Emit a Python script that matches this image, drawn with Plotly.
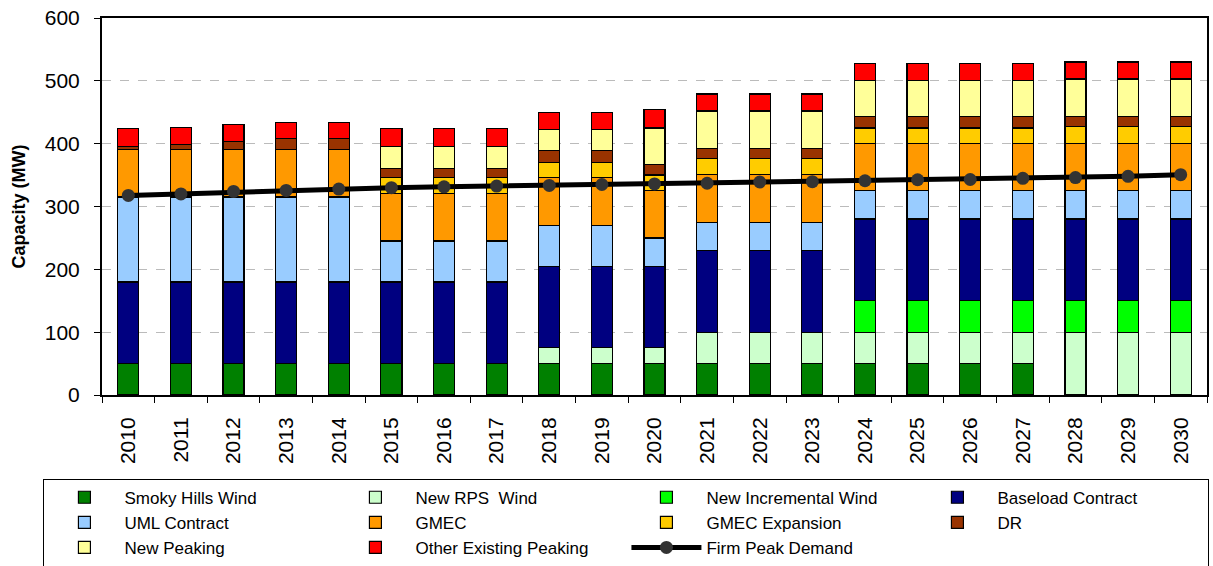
import plotly.graph_objects as go

years = [str(y) for y in range(2010, 2031)]

smoky_hills = [50]*18 + [0]*3
new_rps = [0]*8 + [25]*3 + [50]*7 + [100]*3
new_incr = [0]*14 + [50]*7
baseload = [130]*21
uml = [135]*5 + [65]*5 + [45]*11
gmec = [76]*8 + [76, 76, 75] + [76]*3 + [75]*7
gmec_exp = [0]*5 + [25]*3 + [24, 24, 25] + [25]*3 + [25]*4 + [27]*3
dr = [4, 8, 12, 17, 17] + [15]*3 + [19, 19, 17] + [16]*3 + [18]*4 + [16]*3
new_peaking = [0]*5 + [35]*3 + [33, 33, 58] + [60]*3 + [57]*4 + [60]*3
other_peaking = [29, 27, 27, 26, 26] + [28]*3 + [27, 27, 30] + [27]*3 + [28]*4 + [27]*3
firm_peak = [317.6, 320, 324, 325.6, 327.7, 330, 331.3, 332.5, 333.6, 335, 336,
             337, 339, 339.5, 341, 342.6, 343, 344.8, 346, 348, 350.7]

series = [
    ("Smoky Hills Wind", smoky_hills, "#008000"),
    ("New RPS  Wind", new_rps, "#CCFFCC"),
    ("New Incremental Wind", new_incr, "#00FF00"),
    ("Baseload Contract", baseload, "#000080"),
    ("UML Contract", uml, "#99CCFF"),
    ("GMEC", gmec, "#FF9900"),
    ("GMEC Expansion", gmec_exp, "#FFCC00"),
    ("DR", dr, "#993300"),
    ("New Peaking", new_peaking, "#FFFF99"),
    ("Other Existing Peaking", other_peaking, "#FF0000"),
]

fig = go.Figure()
for name, vals, col in series:
    fig.add_trace(go.Bar(
        x=years, y=vals, name=name, width=0.4,
        marker=dict(color=col, line=dict(color="black", width=1.2)),
    ))

fig.add_trace(go.Scatter(
    x=years, y=firm_peak, name="Firm Peak Demand", mode="lines+markers",
    line=dict(color="black", width=5),
    marker=dict(color="#333333", size=13),
))

fig.update_layout(
    barmode="stack",
    width=1213, height=566,
    margin=dict(l=102, r=6, t=18, b=171, autoexpand=False),
    paper_bgcolor="white", plot_bgcolor="white",
    font=dict(family="Liberation Sans, Arial, sans-serif", color="black"),
    showlegend=True,
    legend=dict(
        orientation="h", x=-0.053, xanchor="left", y=-0.222, yanchor="top",
        bordercolor="black", borderwidth=1,
        font=dict(size=17),
        itemwidth=70,
        entrywidth=206, entrywidthmode="pixels",
        traceorder="normal",
    ),
)

fig.update_yaxes(
    range=[0, 600], dtick=100,
    tickfont=dict(size=21),
    ticks="outside", ticklen=6, tickcolor="black", ticklabelstandoff=10,
    showline=True, linecolor="black", linewidth=2, mirror=True,
    showgrid=True, gridcolor="#BBBBBB", griddash="dash", gridwidth=1,
    title=dict(text="<b>Capacity (MW)</b>", font=dict(size=18), standoff=14),
    zeroline=False, automargin=False,
)
fig.update_xaxes(
    range=[-0.5, 20.5],
    tickangle=-90, tickfont=dict(size=21),
    ticks="outside", ticklen=6, tickcolor="black", tickson="boundaries",
    ticklabelstandoff=12,
    showline=True, linecolor="black", linewidth=2, mirror=True,
    showgrid=False, automargin=False,
)

fig.write_html("out.html")
